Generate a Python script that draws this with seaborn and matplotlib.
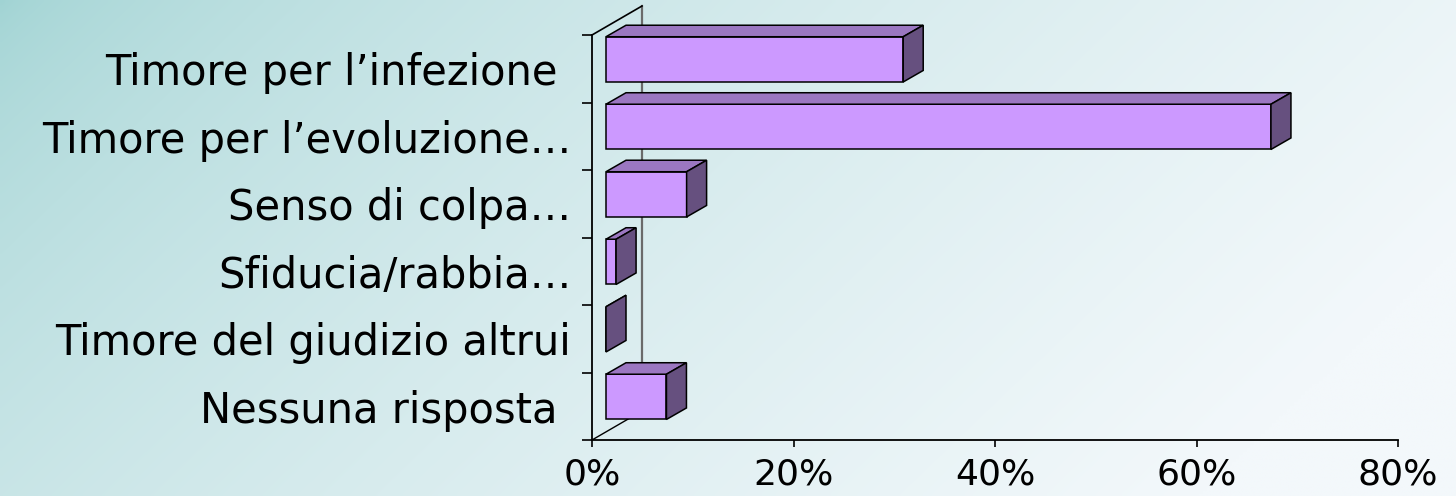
import numpy as np
import matplotlib
matplotlib.use("Agg")
import matplotlib.pyplot as plt
import seaborn as sns
import pandas as pd
from matplotlib.patches import Polygon
from matplotlib.lines import Line2D

# ---- data ----
categories = ["Timore per l\u2019infezione ", "Timore per l\u2019evoluzione\u2026", "Senso di colpa\u2026",
              "Sfiducia/rabbia\u2026", "Timore del giudizio altrui", "Nessuna risposta "]
values = [29.5, 66, 8, 1, 0, 6]
xticks = [0, 20, 40, 60, 80]
xticklabels = ["0%", "20%", "40%", "60%", "80%"]

plt.rcParams["font.family"] = ["DejaVu Sans"]
FS = 30
FSX = 26

W, H, DPI = 1456, 496, 100
fig = plt.figure(figsize=(W / DPI, H / DPI), dpi=DPI)


def px_rect(l, t, r, b):
    return [l / W, (H - b) / H, (r - l) / W, (b - t) / H]


# ---- background gradient ----
bg = fig.add_axes([0, 0, 1, 1])
bg.set_axis_off()
xx, yy = np.meshgrid(np.linspace(0, 1, 400), np.linspace(0, 1, 140))
t = np.clip(0.85 * xx + 0.3 * yy, 0, 1) ** 0.6
c0 = np.array([160, 211, 211]) / 255
c1 = np.array([243, 248, 251]) / 255
img = c0 + (c1 - c0) * t[..., None]
bg.imshow(img, aspect="auto", extent=[0, 1, 0, 1], origin="upper", interpolation="bilinear")
bg.set_xlim(0, 1)
bg.set_ylim(0, 1)

# ---- front frame axes ----
ax = fig.add_axes(px_rect(592, 35, 1398, 440))
ax.patch.set_alpha(0)
ax.set_xlim(0, 80)
ax.set_ylim(len(categories) - 0.5, -0.5)
for s in ["top", "right"]:
    ax.spines[s].set_visible(False)
for s in ["left", "bottom"]:
    ax.spines[s].set_color("black")
    ax.spines[s].set_linewidth(1.3)

ax.set_xticks(xticks)
ax.set_xticklabels(xticklabels, fontsize=FSX)
ax.tick_params(axis="x", direction="out", length=5, width=1.2, pad=7.5, colors="black")
ax.set_yticks(range(len(categories)))
ax.set_yticklabels(categories, fontsize=FS)
ax.set_yticks(np.arange(-0.5, len(categories), 1.0), minor=True)
ax.tick_params(axis="y", which="major", length=0, pad=15)
ax.tick_params(axis="y", which="minor", direction="out", length=7.2, width=1.2, color="black")

# depth of the 3D box in data units of the front axes
p0 = ax.transData.transform((0, 0))
p1 = ax.transData.transform((1, 1))
sx, sy = p1[0] - p0[0], p1[1] - p0[1]
Dx, Dy = 50 / sx, 29 / sy
ylo, yhi = -0.5, len(categories) - 0.5
ax.add_line(Line2D([Dx, Dx], [yhi + Dy, ylo + Dy], color="#6a6a6a", lw=1.6, clip_on=False))
ax.add_line(Line2D([0, Dx], [ylo, ylo + Dy], color="black", lw=1.2, clip_on=False))
ax.add_line(Line2D([0, Dx], [yhi, yhi + Dy], color="black", lw=1.0, clip_on=False))

# ---- bars axes (shifted into depth) ----
axb = fig.add_axes(px_rect(606, 25.6, 1412, 430.6))
axb.patch.set_alpha(0)
df = pd.DataFrame({"cat": categories, "val": values})
sns.barplot(data=df, x="val", y="cat", orient="h", ax=axb, color="#cc99ff",
            saturation=1, edgecolor="black", linewidth=1.1, width=0.67)
axb.set_xlim(0, 80)
axb.set_ylim(len(categories) - 0.5, -0.5)
axb.set_axis_off()

q0 = axb.transData.transform((0, 0))
q1 = axb.transData.transform((1, 1))
bx, by = q1[0] - q0[0], q1[1] - q0[1]
ddx, ddy = 20 / bx, 11.5 / by

for p in list(axb.patches):
    x0, w, y0, h = p.get_x(), p.get_width(), p.get_y(), p.get_height()
    top = Polygon([(x0, y0), (x0 + w, y0), (x0 + w + ddx, y0 + ddy), (x0 + ddx, y0 + ddy)],
                  closed=True, facecolor="#9b77c1", edgecolor="black", lw=1.1, clip_on=False)
    side = Polygon([(x0 + w, y0), (x0 + w, y0 + h), (x0 + w + ddx, y0 + h + ddy), (x0 + w + ddx, y0 + ddy)],
                   closed=True, facecolor="#66507f", edgecolor="black", lw=1.1, clip_on=False)
    axb.add_patch(top)
    axb.add_patch(side)
    p.set_clip_on(False)

fig.savefig("out.png", dpi=DPI)
